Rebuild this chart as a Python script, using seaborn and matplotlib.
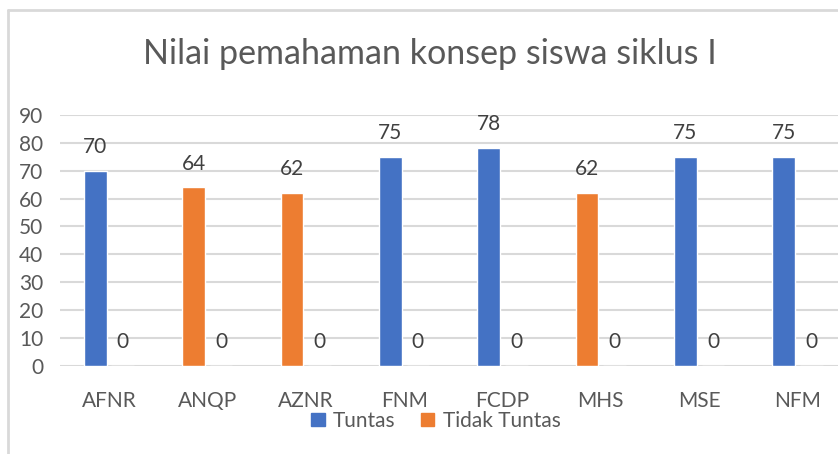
import matplotlib
matplotlib.use("Agg")
import matplotlib.pyplot as plt
from matplotlib.patches import Patch
from matplotlib.lines import Line2D
import seaborn as sns
import pandas as pd

# Data
siswa = ["AFNR", "ANQP", "AZNR", "FNM", "FCDP", "MHS", "MSE", "NFM"]
nilai = [70, 64, 62, 75, 78, 62, 75, 75]
nol = [0, 0, 0, 0, 0, 0, 0, 0]
status = ["Tuntas", "Tidak Tuntas", "Tidak Tuntas", "Tuntas",
          "Tuntas", "Tidak Tuntas", "Tuntas", "Tuntas"]
yticks = [0, 10, 20, 30, 40, 50, 60, 70, 80, 90]

warna = {"Tuntas": "#4472C4", "Tidak Tuntas": "#ED7D31"}

df = pd.DataFrame({
    "siswa": siswa * 2,
    "nilai": nilai + nol,
    "seri": ["nilai"] * len(siswa) + ["nol"] * len(siswa),
})

sns.set_style("white")
plt.rcParams["font.family"] = ["Lato", "DejaVu Sans"]

fig = plt.figure(figsize=(8.38, 4.54), dpi=100)
ax = fig.add_axes([0.0714, 0.194, 0.939, 0.553])

sns.barplot(data=df, x="siswa", y="nilai", hue="seri", dodge=True,
            width=0.56, gap=0.18, palette=["#4472C4", "#4472C4"],
            legend=False, ax=ax)

# colour each bar of the first series by its status
for bar, s in zip(ax.containers[0], status):
    bar.set_facecolor(warna[s])

for cont in ax.containers:
    ax.bar_label(cont, padding=10, fontsize=15, color="#404040")

ax.set_ylim(0, 90)
ax.set_xlim(-0.5, len(siswa) - 0.5)
ax.set_yticks(yticks)
ax.yaxis.grid(True, color="#d9d9d9", linewidth=1.5)
ax.set_axisbelow(True)
sns.despine(ax=ax, left=True, bottom=True)
ax.tick_params(axis="y", length=0, pad=12, labelsize=15, labelcolor="#595959")
ax.tick_params(axis="x", length=0, pad=18, labelsize=15, labelcolor="#595959")
ax.set_xlabel("")
ax.set_ylabel("")

fig.text(0.513, 0.88, "Nilai pemahaman konsep siswa siklus I",
         ha="center", va="center", fontsize=24.5, color="#595959")

handles = [Patch(color=warna["Tuntas"], label="Tuntas"),
           Patch(color=warna["Tidak Tuntas"], label="Tidak Tuntas")]
fig.legend(handles=handles, loc="center", bbox_to_anchor=(0.52, 0.073),
           ncol=2, frameon=False, fontsize=15, labelcolor="#595959",
           handlelength=0.65, handleheight=0.65, handletextpad=0.4,
           columnspacing=1.2)

# chart area border (top and left edges visible)
fig.add_artist(Line2D([0.0095, 1.0], [0.978, 0.978], transform=fig.transFigure,
                      color="#d9d9d9", linewidth=2))
fig.add_artist(Line2D([0.0095, 0.0095], [0.0, 0.978], transform=fig.transFigure,
                      color="#d9d9d9", linewidth=2))

fig.savefig("out.png", dpi=100)
